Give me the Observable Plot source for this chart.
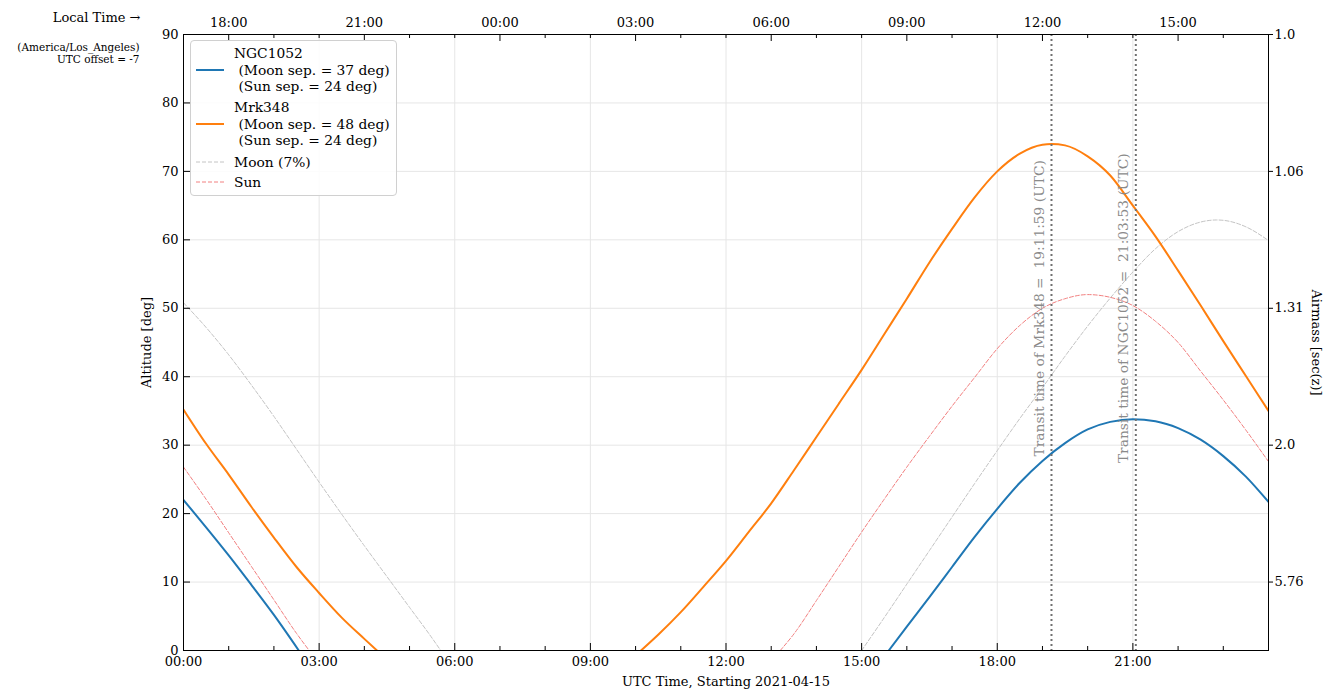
<!DOCTYPE html>
<html>
<head>
<meta charset="utf-8">
<script src="https://cdn.jsdelivr.net/npm/d3@7"></script>
<script src="https://cdn.jsdelivr.net/npm/@observablehq/plot@0.6"></script>
<style>
  body { margin: 0; background: #fff; }
  #wrap { position: relative; width: 1332px; height: 698px; font-family: "DejaVu Serif", serif; }
  #wrap svg text { white-space: pre; }
  #legend { position: absolute; left: 190px; top: 40px; width: 205px; height: 154px;
            border: 1px solid #d0d0d0; border-radius: 4px; background: rgba(255,255,255,0.85);
            font-size: 13.8px; }
  #legend .t { position: absolute; white-space: pre; line-height: 16.5px; }
  #legend svg { position: absolute; left: 4px; }
</style>
</head>
<body>
<div id="wrap"></div>
<script>
// Observation date and site time zone
const obsDate = "2021-04-15";
const zoneName = "America/Los_Angeles";
const utcOffset = -7;

// Altitude (deg) of each target vs. UTC hour; NaN marks time below the horizon
const mrkHours = [0, 0.5, 1, 1.5, 2, 2.5, 3, 3.5, 4, 4.28, 7,
  10.12, 10.5, 11, 11.5, 12, 12.5, 13, 13.5, 14, 14.5, 15, 15.5, 16, 16.5, 17, 17.5, 18, 18.5, 19, 19.2,
  19.5, 20, 20.5, 21, 21.5, 22, 22.5, 23, 23.5, 24];
const mrkAlt = [35.2, 30.2, 25.7, 21.0, 16.5, 12.2, 8.4, 4.8, 1.7, 0, NaN,
  0, 2.3, 5.6, 9.3, 13.1, 17.3, 21.5, 26.3, 31.2, 36.1, 41.0, 46.2, 51.4, 56.7, 61.6, 66.2, 70.0, 72.6, 73.9, 74.0,
  73.8, 72.2, 69.4, 65.0, 60.5, 55.5, 50.4, 45.2, 40.1, 35.0];

const ngcHours = [0, 0.5, 1, 1.5, 2, 2.55, 9,
  15.6, 16, 16.5, 17, 17.5, 18, 18.5, 19, 19.5, 20, 20.5, 21, 21.5, 22, 22.5, 23, 23.5, 24];
const ngcAlt = [22.0, 18.0, 13.9, 9.6, 5.2, 0, NaN,
  0, 3.5, 7.8, 12.2, 16.6, 20.7, 24.5, 27.7, 30.3, 32.3, 33.4, 33.8, 33.5, 32.5, 30.8, 28.4, 25.4, 21.7];

const sunHours = [0, 0.5, 1, 1.5, 2, 2.5, 2.78, 8,
  13.2, 13.5, 14, 14.5, 15, 15.5, 16, 16.5, 17, 17.5, 18, 18.5, 19, 19.5, 20, 20.5, 21, 21.5, 22, 22.5, 23, 23.5, 24];
const sunAlt = [26.8, 22.1, 17.2, 12.3, 7.4, 2.5, 0, NaN,
  0, 2.4, 7.3, 12.3, 17.3, 22.1, 26.8, 31.3, 35.7, 39.9, 44.1, 47.5, 50.0, 51.4, 52.0, 51.6, 50.4, 48.1, 45.0, 40.8, 36.6, 32.2, 27.6];

const moonHours = [0, 0.5, 1, 1.5, 2, 2.5, 3, 3.5, 4, 4.5, 5, 5.5, 5.69, 10,
  15.0, 15.5, 16, 16.5, 17, 17.5, 18, 18.5, 19, 19.5, 20, 20.5, 21, 21.5, 22, 22.5, 22.85, 23, 23.5, 24];
const moonAlt = [50.8, 47.2, 43.2, 38.8, 34.2, 29.4, 24.6, 19.9, 15.3, 10.8, 6.3, 1.8, 0, NaN,
  0, 4.8, 9.7, 14.6, 19.5, 24.4, 29.2, 33.9, 38.4, 43.0, 47.4, 51.5, 55.3, 58.7, 61.2, 62.6, 62.9, 62.85, 61.9, 59.9];

// Legend details
const targetNames = ["NGC1052", "Mrk348"];
const moonSep = [37, 48];
const sunSep = [24, 24];
const moonIllum = 7;

// Transit times (UTC)
const transitNames = ["Mrk348", "NGC1052"];
const transitTimes = ["19:11:59", "21:03:53"];

// Axis ticks
const utcTicks = [0, 3, 6, 9, 12, 15, 18, 21];
const utcTickLabels = ["00:00", "03:00", "06:00", "09:00", "12:00", "15:00", "18:00", "21:00"];
const localTicks = [1, 4, 7, 10, 13, 16, 19, 22];
const localTickLabels = ["18:00", "21:00", "00:00", "03:00", "06:00", "09:00", "12:00", "15:00"];
const altTicks = [0, 10, 20, 30, 40, 50, 60, 70, 80, 90];
const airmassTicks = [10, 30, 50, 70, 90];
const airmassLabels = ["5.76", "2.0", "1.31", "1.06", "1.0"];

const blue = "#1f77b4", orange = "#ff7f0e", sunColor = "#f28080", moonColor = "#c4c4c4";

const rows = (hours, alts) => hours.map((h, i) => ({h, alt: alts[i]}));
const mrk = rows(mrkHours, mrkAlt);
const ngc = rows(ngcHours, ngcAlt);
const sun = rows(sunHours, sunAlt);
const moon = rows(moonHours, moonAlt);

const toHours = (s) => { const [H, M, S] = s.split(":").map(Number); return H + M / 60 + S / 3600; };
const transits = transitNames.map((name, i) => ({name, label: transitTimes[i], t: toHours(transitTimes[i])}));

const W = 1332, H = 698, mT = 34, mB = 48, mL = 183, mR = 64;
const frameW = W - mL - mR, frameH = H - mT - mB;
const allHours = d3.range(0, 25);
const minorBottom = allHours.filter(h => !utcTicks.includes(h) && h < 24);
const minorTop = allHours.filter(h => !localTicks.includes(h) && h > 0 && h < 24);

const label = (txt, opts) => Plot.text([txt], {text: d => d, lineAnchor: "middle", ...opts});

const chart = Plot.plot({
  width: W, height: H,
  marginTop: mT, marginBottom: mB, marginLeft: mL, marginRight: mR,
  x: {domain: [0, 24], axis: null},
  y: {domain: [0, 90], axis: null},
  style: {fontFamily: "DejaVu Serif, serif", fontSize: "13px", background: "white", color: "black"},
  marks: [
    // grid
    Plot.ruleX(utcTicks, {x: d => d, stroke: "#e6e6e6", strokeWidth: 1}),
    Plot.ruleY(altTicks, {y: d => d, stroke: "#e6e6e6", strokeWidth: 1}),
    // sun and moon
    Plot.line(moon, {x: "h", y: "alt", stroke: moonColor, strokeWidth: 1, strokeDasharray: "4,2", curve: "monotone-x", clip: true}),
    Plot.line(sun, {x: "h", y: "alt", stroke: sunColor, strokeWidth: 1, strokeDasharray: "4,2", curve: "monotone-x", clip: true}),
    // targets
    Plot.line(ngc, {x: "h", y: "alt", stroke: blue, strokeWidth: 2, curve: "monotone-x", clip: true}),
    Plot.line(mrk, {x: "h", y: "alt", stroke: orange, strokeWidth: 2, curve: "monotone-x", clip: true}),
    // transit markers
    Plot.ruleX(transits, {x: "t", stroke: "#707070", strokeWidth: 2, strokeDasharray: "2,3"}),
    Plot.text(transits, {x: "t", y: () => 50, rotate: -90, dx: -12, lineAnchor: "middle",
      text: d => `Transit time of ${d.name} =  ${d.label} (UTC)`, fill: "#8a8a8a", fontSize: 13.8}),
    // frame
    Plot.frame({stroke: "black", strokeWidth: 1}),
    // bottom ticks (inward)
    Plot.ruleX(utcTicks, {x: d => d, insetTop: frameH - 7, stroke: "black"}),
    Plot.ruleX(minorBottom, {x: d => d, insetTop: frameH - 4, stroke: "black"}),
    Plot.text(utcTicks, {x: d => d, frameAnchor: "bottom", lineAnchor: "middle", dy: 11, text: (d, i) => utcTickLabels[i]}),
    label(`UTC Time, Starting ${obsDate}`, {frameAnchor: "bottom", dy: 31}),
    // top local-time ticks (inward)
    Plot.ruleX(localTicks, {x: d => d, insetBottom: frameH - 7, stroke: "black"}),
    Plot.ruleX(minorTop, {x: d => d, insetBottom: frameH - 4, stroke: "black"}),
    Plot.text(localTicks, {x: d => d, frameAnchor: "top", lineAnchor: "middle", dy: -12, text: (d, i) => localTickLabels[i]}),
    // left altitude ticks (inward)
    Plot.ruleY(altTicks, {y: d => d, insetRight: frameW - 7, stroke: "black"}),
    Plot.text(altTicks, {y: d => d, frameAnchor: "left", lineAnchor: "middle", dx: -5, textAnchor: "end", text: d => String(d)}),
    label("Altitude [deg]", {frameAnchor: "left", dx: -37, rotate: -90, textAnchor: "middle"}),
    // right airmass ticks (outward)
    Plot.ruleY(airmassTicks, {y: d => d, insetLeft: frameW, insetRight: -5, stroke: "black"}),
    Plot.text(airmassTicks, {y: d => d, frameAnchor: "right", lineAnchor: "middle", dx: 6, textAnchor: "start", text: (d, i) => airmassLabels[i]}),
    label("Airmass [sec(z)]", {frameAnchor: "right", dx: 48, rotate: 90, textAnchor: "middle"}),
    // local-time caption
    label("Local Time \u2192", {frameAnchor: "top-left", dx: -43, dy: -17, textAnchor: "end"}),
    label(`(${zoneName})`, {frameAnchor: "top-left", dx: -44, dy: 13, textAnchor: "end", fontSize: 10.5}),
    label(`UTC offset = ${utcOffset}`, {frameAnchor: "top-left", dx: -44, dy: 25, textAnchor: "end", fontSize: 10.5})
  ]
});

const wrap = document.getElementById("wrap");
wrap.appendChild(chart);

// Legend
const legend = document.createElement("div");
legend.id = "legend";
const entries = [
  {lines: [targetNames[0], ` (Moon sep. = ${moonSep[0]} deg)`, ` (Sun sep. = ${sunSep[0]} deg)`], color: blue, width: 2, dash: null, top: 4},
  {lines: [targetNames[1], ` (Moon sep. = ${moonSep[1]} deg)`, ` (Sun sep. = ${sunSep[1]} deg)`], color: orange, width: 2, dash: null, top: 58},
  {lines: [`Moon (${moonIllum}%)`], color: moonColor, width: 1, dash: "4,2", top: 113},
  {lines: ["Sun"], color: sunColor, width: 1, dash: "4,2", top: 133}
];
for (const e of entries) {
  const n = e.lines.length;
  const t = document.createElement("div");
  t.className = "t";
  t.style.left = "43px";
  t.style.top = e.top + "px";
  t.textContent = e.lines.join("\n");
  legend.appendChild(t);
  const midY = e.top + (n * 16.5) / 2;
  const s = document.createElementNS("http://www.w3.org/2000/svg", "svg");
  s.setAttribute("width", 30); s.setAttribute("height", 6);
  s.style.top = (midY - 3) + "px";
  const l = document.createElementNS("http://www.w3.org/2000/svg", "line");
  l.setAttribute("x1", 1); l.setAttribute("x2", 29); l.setAttribute("y1", 3); l.setAttribute("y2", 3);
  l.setAttribute("stroke", e.color); l.setAttribute("stroke-width", e.width);
  if (e.dash) l.setAttribute("stroke-dasharray", e.dash);
  s.appendChild(l);
  legend.appendChild(s);
}
wrap.appendChild(legend);
</script>
</body>
</html>
